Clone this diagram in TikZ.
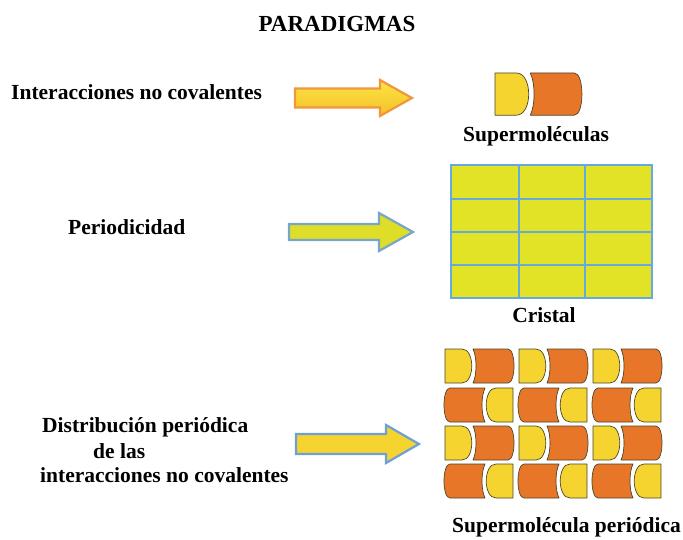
\documentclass[tikz,border=0pt]{standalone}
\usepackage{fontspec}
\setmainfont{Liberation Serif}
\definecolor{yel}{RGB}{246,212,48}
\definecolor{ora}{RGB}{232,118,40}
\definecolor{edgedark}{RGB}{75,70,40}
\definecolor{crysfill}{RGB}{226,226,38}
\definecolor{crysline}{RGB}{100,170,220}
\definecolor{arrorange}{RGB}{240,150,60}
\definecolor{arrblue}{RGB}{110,160,215}
\definecolor{arrgrey}{RGB}{120,165,200}
\definecolor{arrtop}{RGB}{252,228,70}
\definecolor{arrbot}{RGB}{244,192,40}
\definecolor{limefill}{RGB}{222,222,40}
\begin{document}
\begin{tikzpicture}[x=1pt,y=-1pt,
  lbl/.style={font=\fontsize{21.5}{25}\selectfont\bfseries, inner sep=0pt},
  ttl/.style={font=\fontsize{23}{27}\selectfont\bfseries, inner sep=0pt},
  ydraw/.style={fill=yel, draw=edgedark, line width=0.7pt, line join=round},
  odraw/.style={fill=ora, draw=edgedark, line width=0.7pt, line join=round},
  blockarrow/.style={line width=2.2pt, line join=miter},
  molpair/.pic={
    \draw[ydraw] (0,0) -- (17,0) .. controls (30,0) and (30,34) .. (17,34) -- (0,34) -- cycle;
    \draw[odraw] (28,0) .. controls (32,8) and (32,26) .. (28,34) -- (63,34) .. controls (71,34) and (71,0) .. (63,0) -- cycle;
  }]
\useasboundingbox (0,0) rectangle (683,540);

% title
\node[ttl, anchor=base] (title) at (337,32) {PARADIGMAS};

% left labels
\node[lbl, anchor=base west] (t1) at (11,100) {Interacciones no covalentes};
\node[lbl, anchor=base west] (t2) at (68,235) {Periodicidad};
\node[lbl, anchor=base west] (t3a) at (42,432) {Distribución periódica};
\node[lbl, anchor=base west] (t3b) at (93,458) {de las};
\node[lbl, anchor=base west] (t3c) at (40,482) {interacciones no covalentes};

% arrows
\draw[blockarrow, draw=arrorange, top color=arrtop, bottom color=arrbot]
  (295,88.5) -- (380,88.5) -- (380,80) -- (412,98) -- (380,116) -- (380,107.5) -- (295,107.5) -- cycle;
\draw[blockarrow, draw=arrgrey, fill=limefill]
  (289,224) -- (379,224) -- (379,213) -- (413,232) -- (379,251) -- (379,240) -- (289,240) -- cycle;
\draw[blockarrow, draw=arrblue, fill=yel]
  (296,434) -- (386,434) -- (386,425) -- (419,444) -- (386,463) -- (386,454) -- (296,454) -- cycle;

% supermolecule
\pic[xscale=1.26, yscale=1.24] at (495,73) {molpair};
\node[lbl, anchor=base] (s1) at (536,142) {Supermoléculas};

% crystal
\fill[crysfill] (451,165) rectangle (652,298);
\draw[crysline, line width=2.6pt] (451,165) rectangle (652,298);
\draw[crysline, line width=2.6pt] (519,165) -- (519,298) (585,165) -- (585,298)
  (451,199) -- (652,199) (451,232) -- (652,232) (451,265) -- (652,265);
\node[lbl, anchor=base] (s2) at (544,323) {Cristal};

% periodic supermolecule
\foreach \xx in {445,519,593} {
  \pic at (\xx,349) {molpair};
  \pic[xscale=-1] at (\xx+68,388) {molpair};
  \pic at (\xx,426) {molpair};
  \pic[xscale=-1] at (\xx+68,464) {molpair};
}
\node[lbl, anchor=base west] (s3) at (452,532) {Supermolécula periódica};
\end{tikzpicture}
\end{document}
